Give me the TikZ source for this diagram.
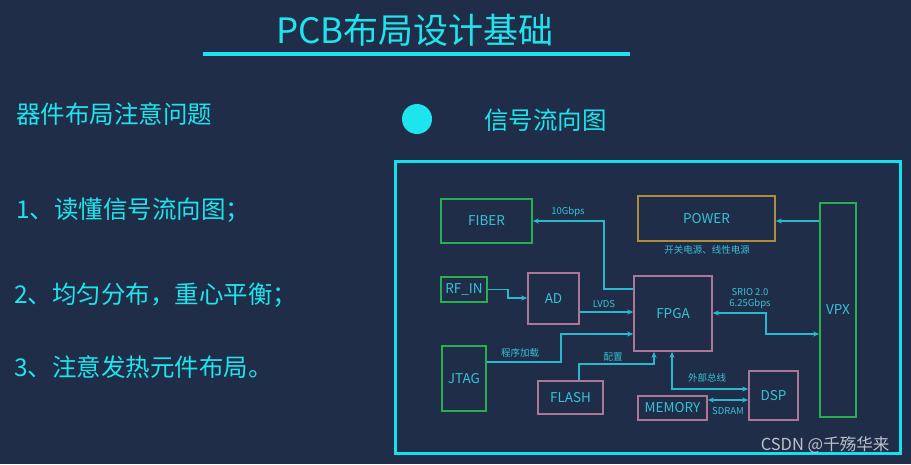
\documentclass[tikz,border=0pt]{standalone}
\usepackage{fontspec}
\setmainfont{Noto Sans CJK SC}
\usetikzlibrary{arrows.meta}
\definecolor{bg}{RGB}{31,45,72}
\definecolor{titlecyan}{RGB}{30,228,238}
\definecolor{framecyan}{RGB}{20,225,235}
\definecolor{linecol}{RGB}{40,185,205}
\definecolor{txtcol}{RGB}{55,195,215}
\definecolor{gbox}{RGB}{40,175,80}
\definecolor{obox}{RGB}{175,140,60}
\definecolor{pbox}{RGB}{170,120,150}
\definecolor{wm}{RGB}{205,210,220}
\tikzset{
  bx/.style={draw, line width=1.6pt, inner sep=0pt, text=txtcol, font=\fontsize{13.5}{16}\selectfont},
  gb/.style={bx, draw=gbox},
  ob/.style={bx, draw=obox},
  pb/.style={bx, draw=pbox},
  flow/.style={draw=linecol, line width=1.5pt, arrows={-Stealth[length=6pt,width=5pt]}},
  flow2/.style={draw=linecol, line width=1.5pt, arrows={Stealth[length=6pt,width=5pt]-Stealth[length=6pt,width=5pt]}},
  lbl/.style={text=txtcol, inner sep=0pt, font=\fontsize{9.5}{11}\selectfont},
  big/.style={text=titlecyan, inner sep=0pt, font=\fontsize{24.5}{28}\selectfont},
}
\begin{document}
\begin{tikzpicture}[x=1pt,y=-1pt]
\useasboundingbox (0,0) rectangle (911,464);
\fill[bg] (0,0) rectangle (911,464);
% title
\node[text=titlecyan, inner sep=0pt, font=\fontsize{35}{38}\selectfont] (title) at (415,30) {PCB布局设计基础};
\draw[titlecyan, line width=3.5pt] (203,54) -- (630,54);
% left texts
\node[big, anchor=west] (h1) at (16,114) {器件布局注意问题};
\node[big, anchor=west] (i1) at (16,210) {1、读懂信号流向图；};
\node[big, anchor=west] (i2) at (14,295) {2、均匀分布，重心平衡；};
\node[big, anchor=west] (i3) at (14,367) {3、注意发热元件布局。};
% bullet
\node[circle, fill=titlecyan, minimum size=30pt, inner sep=0pt] (dot) at (417,119) {};
\node[big, anchor=west] (h2) at (484,120) {信号流向图};
% frame
\draw[framecyan, line width=3pt] (395,161) rectangle (900,453);
% boxes
\node[gb, minimum width=91pt, minimum height=44pt] (fiber) at (486.5,221) {FIBER};
\node[ob, minimum width=137pt, minimum height=45pt] (power) at (706.5,218.5) {POWER};
\node[lbl] (pwrlbl) at (707,250) {开关电源、线性电源};
\node[gb, minimum width=36pt, minimum height=214pt] (vpx) at (838,310) {VPX};
\node[gb, minimum width=46pt, minimum height=25pt] (rfin) at (464,289.5) {RF\_IN};
\node[pb, minimum width=51pt, minimum height=51pt] (ad) at (553.5,298.5) {AD};
\node[pb, minimum width=78pt, minimum height=75pt] (fpga) at (673,313.5) {FPGA};
\node[gb, minimum width=44pt, minimum height=65pt] (jtag) at (464,378.5) {JTAG};
\node[pb, minimum width=65pt, minimum height=33pt] (flash) at (570.5,397.5) {FLASH};
\node[pb, minimum width=69pt, minimum height=24pt] (mem) at (672.5,408) {MEMORY};
\node[pb, minimum width=49pt, minimum height=49pt] (dsp) at (773.5,395.5) {DSP};
% coordinates
\coordinate (c1) at (604,289);
\coordinate (c2) at (508,298);
\coordinate (c3) at (600,312);
\coordinate (c4) at (561,362);
\coordinate (c5) at (561,334);
\coordinate (c6) at (579,364);
\coordinate (c7) at (654,364);
\coordinate (c8) at (672,389);
\coordinate (c9) at (728,400);
\coordinate (c10) at (766,313);
\coordinate (c11) at (766,334);
\coordinate (c12) at (800,221);
% connectors
\draw[flow] (c1 -| fpga.west) -- (c1) |- (fiber.east);
\draw[flow] (rfin.east) -| (c2) -- (c2 -| ad.west);
\draw[flow] (c3 -| ad.east) -- (c3 -| fpga.west);
\draw[flow] (c4 -| jtag.east) -- (c4) -- (c5) -- (c5 -| fpga.west);
\draw[flow] (c6 |- flash.north) -- (c6) -- (c7) -- (c7 |- fpga.south);
\draw[flow2] (c8 |- fpga.south) -- (c8) -- (c8 -| dsp.west);
\draw[flow2] (c9 -| mem.east) -- (c9 -| dsp.west);
\draw[flow2] (c10 -| fpga.east) -- (c10) -- (c11) -- (c11 -| vpx.west);
\draw[flow] (c12 -| vpx.west) -- (c12 -| power.east);
% labels
\node[lbl] (l10g) at (568,212) {10Gbps};
\node[lbl] (llvds) at (604,304) {LVDS};
\node[lbl] (ljtag) at (520,353) {程序加载};
\node[lbl] (lcfg) at (613,357) {配置};
\node[lbl] (lbus) at (707,378) {外部总线};
\node[lbl] (lsdram) at (728,411) {SDRAM};
\node[lbl, align=center] (lsrio) at (750,299) {SRIO 2.0\\6.25Gbps};
% watermark
\node[text=wm, inner sep=0pt, font=\fontsize{16.5}{18}\selectfont, opacity=0.9] (wmk) at (825,445) {CSDN @千殇华来};
\end{tikzpicture}
\end{document}
